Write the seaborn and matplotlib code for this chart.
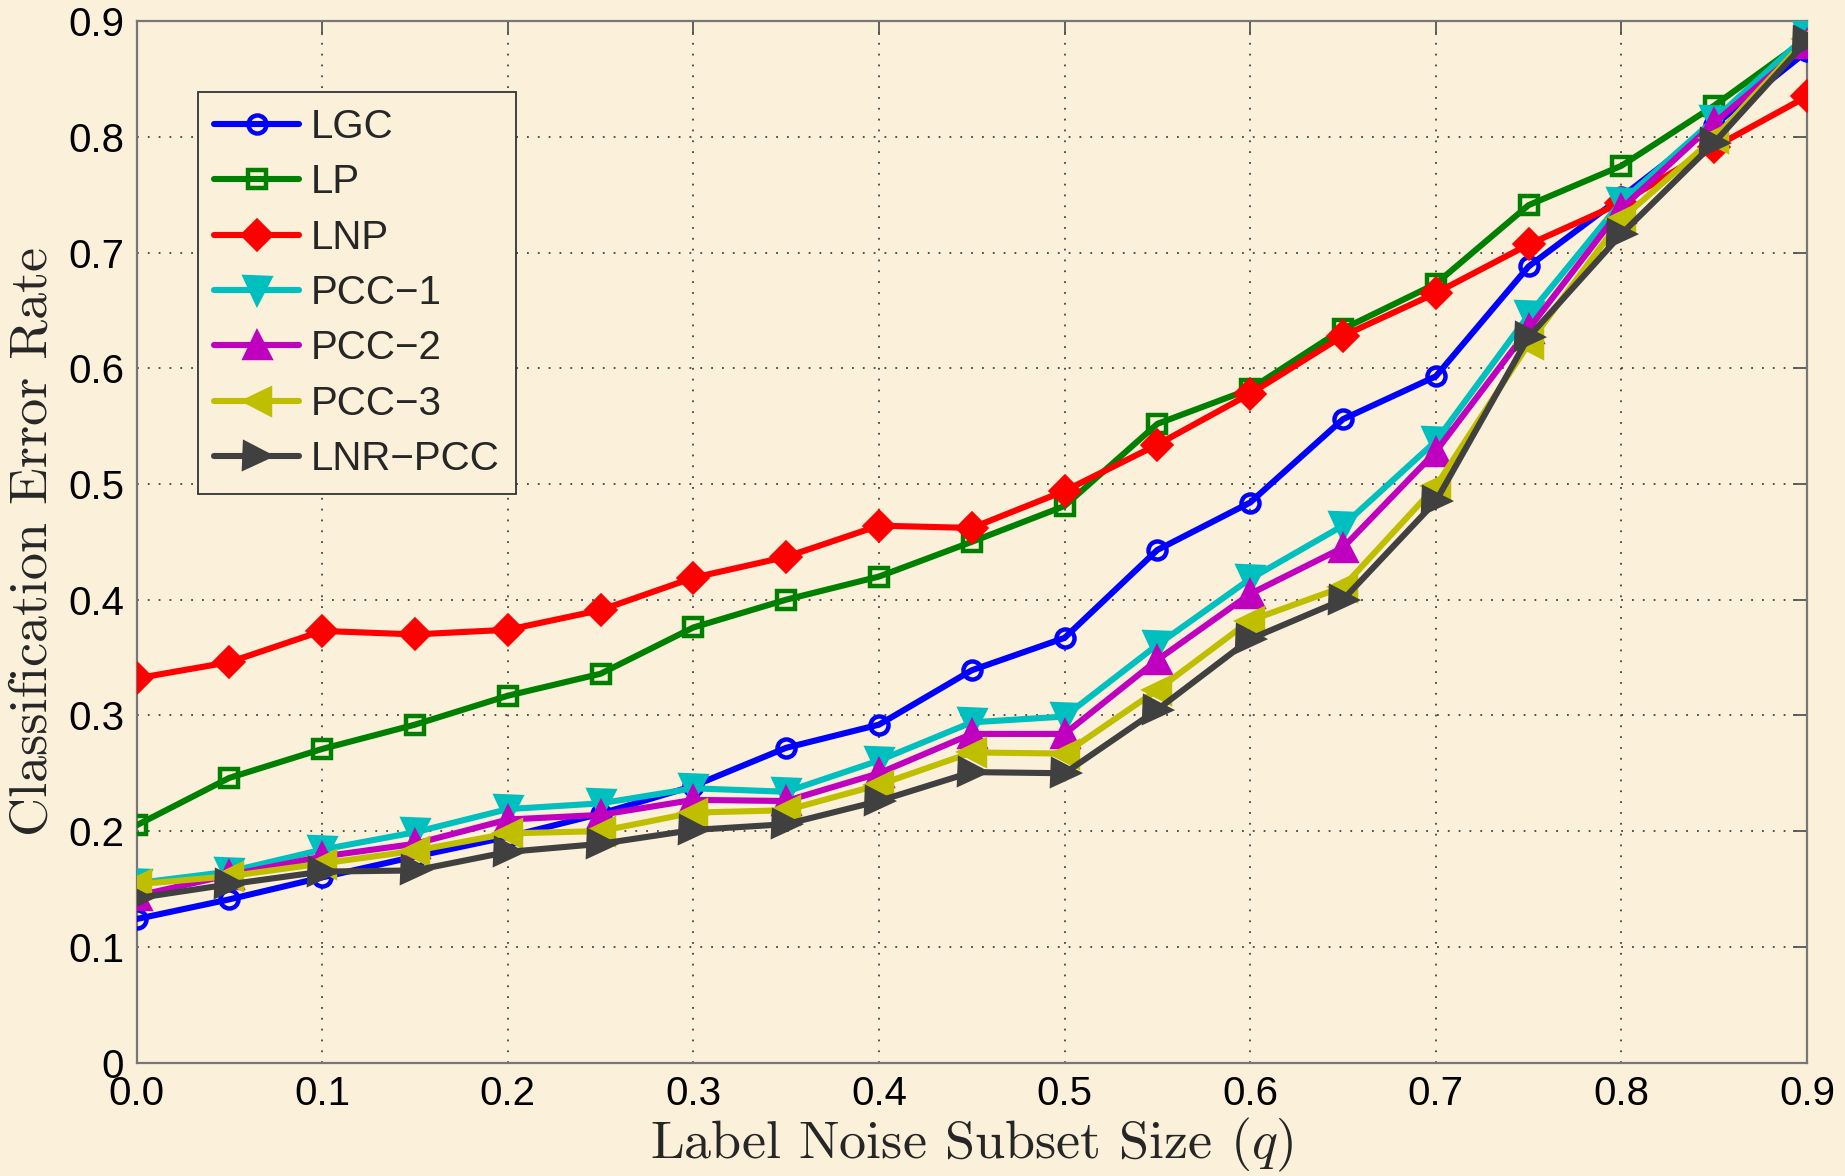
import numpy as np
import pandas as pd
import matplotlib
matplotlib.use("Agg")
import matplotlib.pyplot as plt
import seaborn as sns

# ---- data ----
q = [0.0, 0.05, 0.1, 0.15, 0.2, 0.25, 0.3, 0.35, 0.4, 0.45, 0.5,
     0.55, 0.6, 0.65, 0.7, 0.75, 0.8, 0.85, 0.9]

lgc = [0.124, 0.141, 0.160, 0.178, 0.195, 0.215, 0.239, 0.272, 0.292, 0.339,
       0.367, 0.443, 0.484, 0.556, 0.593, 0.688, 0.748, 0.810, 0.874]
lp = [0.205, 0.246, 0.271, 0.292, 0.317, 0.336, 0.376, 0.400, 0.420, 0.450,
      0.481, 0.552, 0.582, 0.634, 0.673, 0.741, 0.775, 0.827, 0.885]
lnp = [0.332, 0.346, 0.373, 0.370, 0.374, 0.391, 0.419, 0.437, 0.464, 0.462,
       0.494, 0.534, 0.578, 0.628, 0.665, 0.707, 0.743, 0.791, 0.835]
pcc1 = [0.155, 0.165, 0.184, 0.199, 0.219, 0.224, 0.237, 0.234, 0.261, 0.294,
        0.299, 0.361, 0.418, 0.464, 0.537, 0.646, 0.744, 0.815, 0.888]
pcc2 = [0.144, 0.162, 0.178, 0.189, 0.210, 0.214, 0.227, 0.226, 0.250, 0.284,
        0.284, 0.348, 0.405, 0.445, 0.528, 0.634, 0.738, 0.812, 0.880]
pcc3 = [0.154, 0.161, 0.172, 0.183, 0.198, 0.200, 0.216, 0.218, 0.240, 0.268,
        0.267, 0.322, 0.382, 0.411, 0.498, 0.621, 0.729, 0.799, 0.885]
lnrpcc = [0.142, 0.154, 0.165, 0.166, 0.182, 0.189, 0.201, 0.206, 0.226, 0.251,
          0.250, 0.305, 0.366, 0.400, 0.485, 0.627, 0.716, 0.795, 0.883]

series_names = ["LGC", "LP", "LNP", "PCC\u22121", "PCC\u22122", "PCC\u22123", "LNR\u2212PCC"]
series_values = [lgc, lp, lnp, pcc1, pcc2, pcc3, lnrpcc]

xticks = [0.0, 0.1, 0.2, 0.3, 0.4, 0.5, 0.6, 0.7, 0.8, 0.9]
xtick_labels = ["0.0", "0.1", "0.2", "0.3", "0.4", "0.5", "0.6", "0.7", "0.8", "0.9"]
yticks = [0, 0.1, 0.2, 0.3, 0.4, 0.5, 0.6, 0.7, 0.8, 0.9]
ytick_labels = ["0", "0.1", "0.2", "0.3", "0.4", "0.5", "0.6", "0.7", "0.8", "0.9"]

# ---- styles ----
colors = ["#0000FF", "#008000", "#FF0000", "#00BFBF", "#BF00BF", "#BFBF00", "#404040"]
markers = ["o", "s", "D", "v", "^", "<", ">"]
msizes = [13, 13, 14, 18, 18, 18, 18]
filled = [False, False, True, True, True, True, True]

bg = "#FBF0DA"
sns.set_theme(style="white")
plt.rcParams["font.family"] = ["Liberation Sans", "DejaVu Sans"]
plt.rcParams["mathtext.fontset"] = "cm"

fig = plt.figure(figsize=(18.45, 11.76), dpi=100, facecolor=bg)
ax = fig.add_axes([0.074, 0.0965, 0.9054, 0.8855])
ax.set_facecolor(bg)

df = pd.DataFrame({"q": q})
for name, vals, c, m, ms, f in zip(series_names, series_values, colors, markers, msizes, filled):
    df[name] = vals
    sns.lineplot(data=df, x="q", y=name, ax=ax, color=c, marker=m, markersize=ms,
                 linewidth=4.4, markeredgewidth=3.2, markeredgecolor=c,
                 markerfacecolor=(c if f else "none"), label=name, zorder=3)

ax.set_xlim(0, 0.9)
ax.set_ylim(0, 0.9)
ax.set_xticks(xticks)
ax.set_xticklabels(xtick_labels)
ax.set_yticks(yticks)
ax.set_yticklabels(ytick_labels)
ax.tick_params(direction="in", length=10, width=1.3, color="#555555",
               labelsize=29, top=True, right=True, pad=9, labelcolor="black")
ax.grid(True, linestyle=(0, (1, 5)), color="#444444", linewidth=1.3)
for s in ax.spines.values():
    s.set_color("#777777")
    s.set_linewidth(1.6)

ax.set_xlabel("Label Noise Subset Size $(q)$", fontsize=39, family="cmr10", labelpad=2)
ax.set_ylabel("Classification Error Rate", fontsize=39, family="cmr10", labelpad=8)

leg = ax.legend(loc="upper left", bbox_to_anchor=(0.037, 0.932), fontsize=29,
                frameon=True, fancybox=False, edgecolor="#333333", facecolor=bg,
                framealpha=1.0, handlelength=2.1, handletextpad=0.3,
                labelspacing=0.43, borderpad=0.4, borderaxespad=0)
leg.get_frame().set_linewidth(1.3)

fig.savefig("out.png", dpi=100, facecolor=bg)
